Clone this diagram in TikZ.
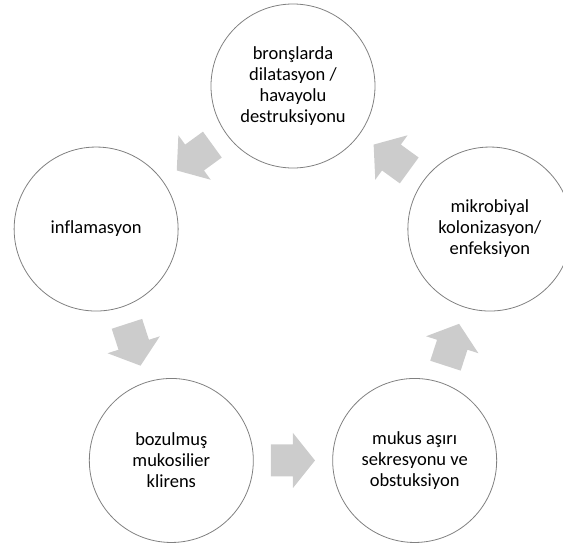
\documentclass[tikz,border=0pt]{standalone}
\usepackage{fontspec}
\setmainfont{Carlito}[Ligatures=NoCommon]
\usetikzlibrary{calc}
\definecolor{bord}{RGB}{128,128,128}
\definecolor{fleche}{RGB}{204,204,204}
\tikzset{
  etape/.style={circle,draw=bord,line width=0.8pt,minimum size=164pt,inner sep=0pt,align=center,font=\fontsize{18.5}{21}\selectfont},
  bloc/.style={fill=fleche}
}

\begin{document}
\begin{tikzpicture}[x=1pt,y=1pt]
\useasboundingbox (-293,-257) rectangle (270,293);
\clip (-293,-257) rectangle (270,293);
\node[etape] (bronches) at (90:207) {bronşlarda\\dilatasyon /\\havayolu\\destruksiyonu};
\node[etape] (inflam) at (162:207) {inflamasyon};
\node[etape] (klirens) at (234:207) {bozulmuş\\mukosilier\\klirens};
\node[etape] (mukus) at (306:207) {mukus aşırı\\sekresyonu ve\\obstuksiyon};
\node[etape] (mikrob) at (18:207) {mikrobiyal\\kolonizasyon/\\enfeksiyon};

\foreach \a/\b/\k in {klirens/mukus/0,mukus/mikrob/72,mikrob/bronches/144,bronches/inflam/216,inflam/klirens/288} {\fill [bloc,shift={($(\a)!0.5!(\b)$)},rotate=\k] (-22,-16)--(0,-16)--(0,-27.5)--(22,0)--(0,27.5)--(0,16)--(-22,16)--cycle;}
\end{tikzpicture}
\end{document}
